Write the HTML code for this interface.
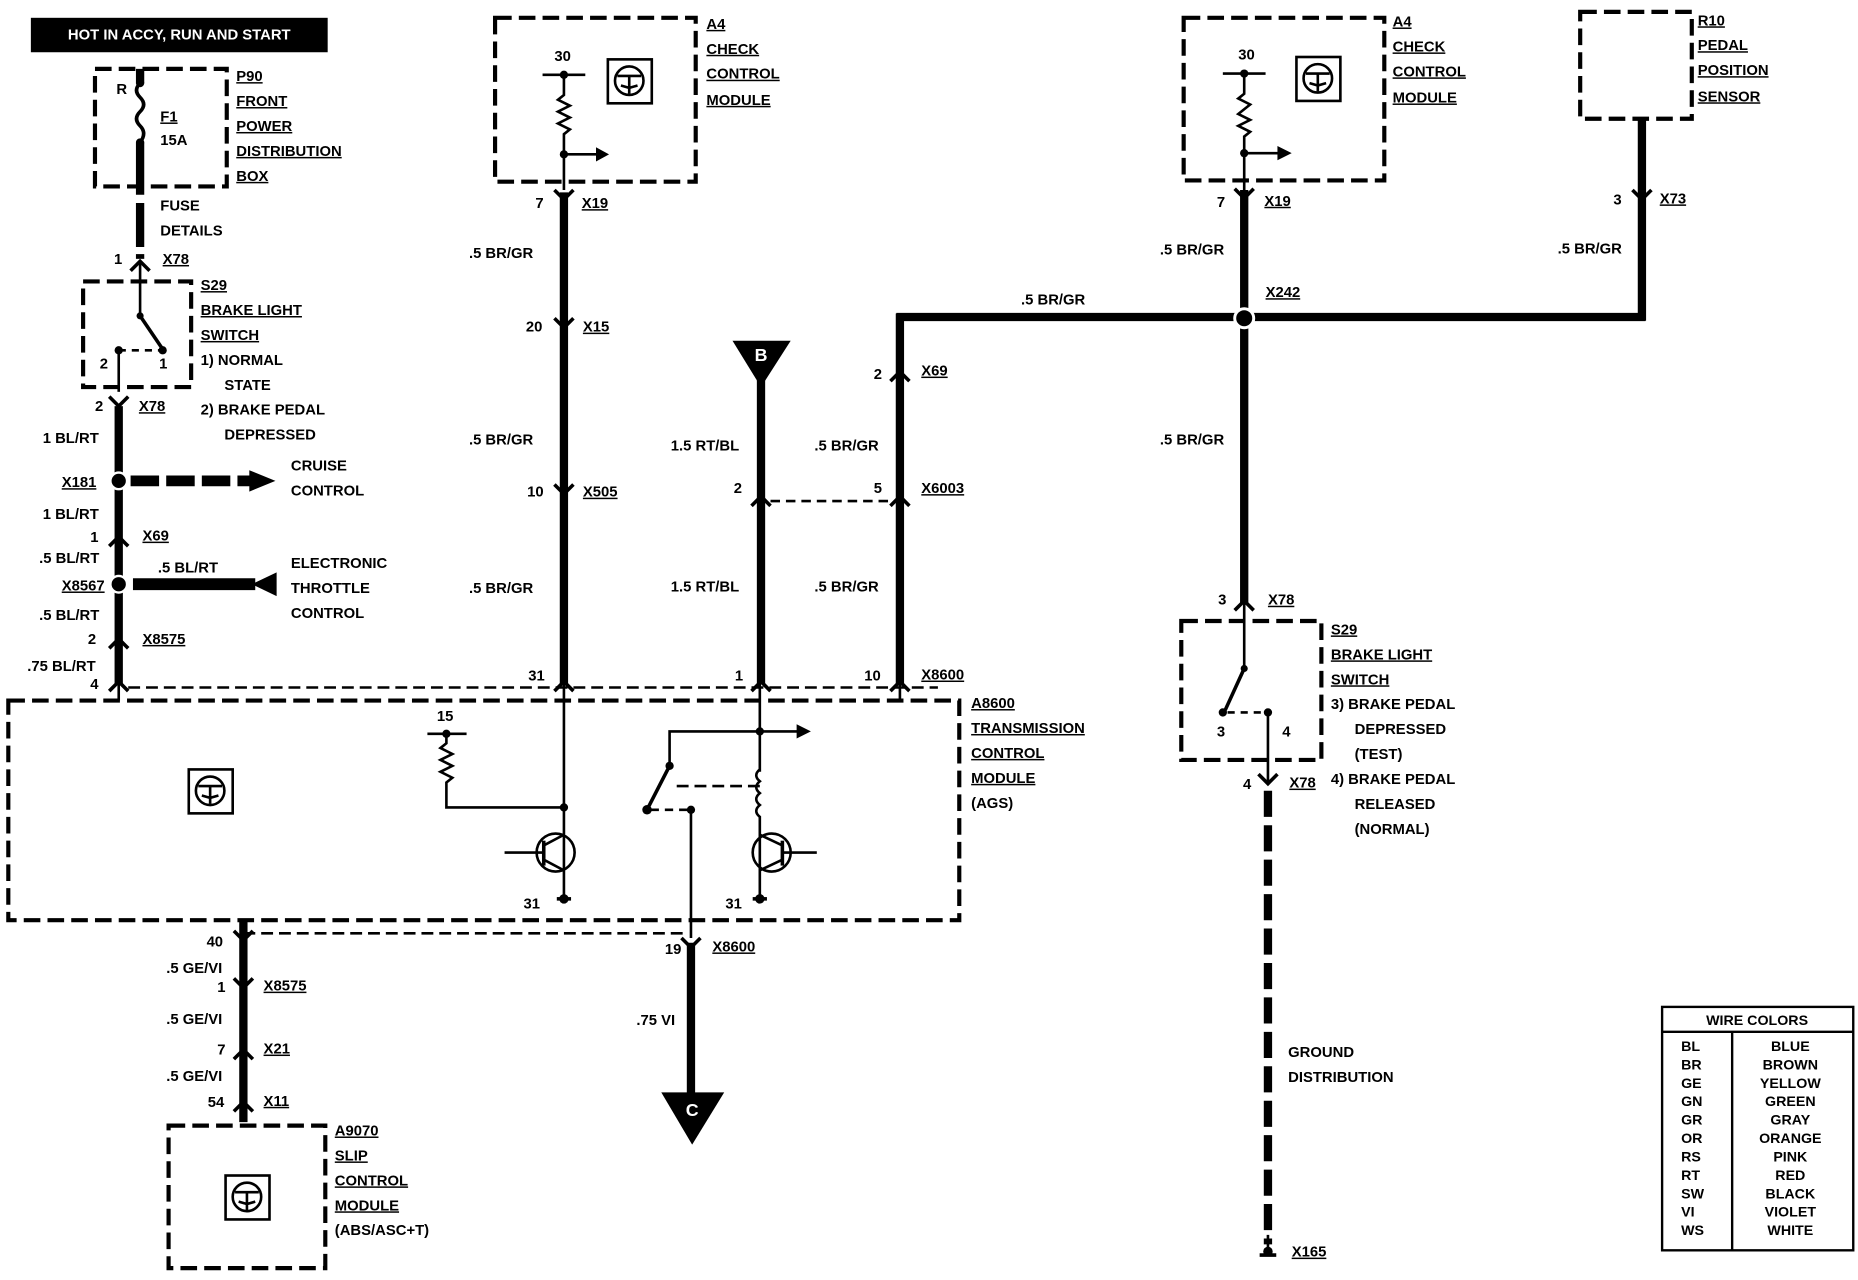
<!DOCTYPE html>
<html><head><meta charset="utf-8"><style>
html,body{margin:0;padding:0;background:#fff;}
svg{display:block;}
text{font-family:"Liberation Sans",sans-serif;font-weight:bold;font-size:12.5px;fill:#000;dominant-baseline:middle;}
.u{text-decoration:underline;}
.db{fill:none;stroke:#000;stroke-width:3.5;stroke-dasharray:14 6;}
.w{stroke:#000;stroke-width:7;fill:none;}
.t{stroke:#000;stroke-width:2.2;fill:none;}
.c{stroke:#000;stroke-width:3;fill:none;}
</style></head><body>
<svg width="1858" height="1280" viewBox="0 0 1565 1078" preserveAspectRatio="none" xmlns="http://www.w3.org/2000/svg">
<rect width="1565" height="1078" fill="#fff"/>
<!-- header -->
<rect x="26" y="15" width="250" height="29" fill="#000"/>
<text x="151" y="30" text-anchor="middle" style="fill:#fff;font-size:12.5px">HOT IN ACCY, RUN AND START</text>

<!-- P90 -->
<rect x="80" y="58" width="111" height="99" class="db"/>
<text x="98" y="76">R</text>
<line x1="118" y1="58" x2="118" y2="70" class="w"/>
<circle cx="118" cy="70" r="3.5"/>
<path d="M118 70 q-6 6 0 12 q6 6 0 12 q-6 6 0 12 q6 6 0 14" class="c"/>
<circle cx="118" cy="120" r="3.5"/>
<text x="135" y="99" class="u">F1</text>
<text x="135" y="119">15A</text>
<line x1="118" y1="120" x2="118" y2="164" class="w"/>
<line x1="118" y1="171" x2="118" y2="208" class="w"/>
<line x1="118" y1="214" x2="118" y2="218" class="w"/>
<text x="199" y="65" class="u">P90</text>
<text x="199" y="86" class="u">FRONT</text>
<text x="199" y="107" class="u">POWER</text>
<text x="199" y="128" class="u">DISTRIBUTION</text>
<text x="199" y="149" class="u">BOX</text>
<text x="135" y="174">FUSE</text>
<text x="135" y="195">DETAILS</text>
<path d="M110 228 L118 220 L126 228" class="c"/>
<line x1="118" y1="220" x2="118" y2="237" class="t"/>
<text x="96" y="219">1</text>
<text x="137" y="219" class="u">X78</text>

<!-- S29 left -->
<rect x="70" y="237" width="91" height="89" class="db"/>
<line x1="118" y1="237" x2="118" y2="265" class="t"/>
<circle cx="118" cy="266" r="3"/>
<line x1="118" y1="266" x2="137" y2="294" class="c"/>
<circle cx="137" cy="295" r="3.5"/>
<line x1="100" y1="295" x2="135" y2="295" class="t" stroke-dasharray="6 5"/>
<circle cx="100" cy="295" r="3.5"/>
<line x1="100" y1="295" x2="100" y2="330" class="t"/>
<text x="84" y="307">2</text>
<text x="134" y="307">1</text>
<text x="169" y="241" class="u">S29</text>
<text x="169" y="262" class="u">BRAKE LIGHT</text>
<text x="169" y="283" class="u">SWITCH</text>
<text x="169" y="304">1)  NORMAL</text>
<text x="189" y="325">STATE</text>
<text x="169" y="346">2)  BRAKE PEDAL</text>
<text x="189" y="367">DEPRESSED</text>

<!-- left vertical wire -->
<path d="M92 334 L100 342 L108 334" class="c"/>
<line x1="100" y1="342" x2="100" y2="576" class="w"/>
<text x="80" y="343">2</text>
<text x="117" y="343" class="u">X78</text>
<text x="36" y="370">1 BL/RT</text>
<circle cx="100" cy="405" r="7" fill="#000" stroke="#fff" stroke-width="2"/>
<text x="52" y="407" class="u">X181</text>
<line x1="110" y1="405" x2="212" y2="405" stroke="#000" stroke-width="9" stroke-dasharray="24 6"/>
<polygon points="210,396 232,405 210,414"/>
<text x="245" y="393">CRUISE</text>
<text x="245" y="414">CONTROL</text>
<text x="36" y="434">1 BL/RT</text>
<path d="M92 460 L100 452 L108 460" class="c"/>
<text x="76" y="453">1</text>
<text x="120" y="452" class="u">X69</text>
<text x="33" y="471">.5 BL/RT</text>
<text x="133" y="479">.5 BL/RT</text>
<circle cx="100" cy="492" r="7" fill="#000" stroke="#fff" stroke-width="2"/>
<text x="52" y="494" class="u">X8567</text>
<line x1="112" y1="492" x2="215" y2="492" stroke="#000" stroke-width="10"/>
<polygon points="212,492 233,482 233,502"/>
<text x="245" y="475">ELECTRONIC</text>
<text x="245" y="496">THROTTLE</text>
<text x="245" y="517">CONTROL</text>
<text x="33" y="519">.5 BL/RT</text>
<path d="M92 546 L100 538 L108 546" class="c"/>
<text x="74" y="539">2</text>
<text x="120" y="539" class="u">X8575</text>
<text x="23" y="562">.75 BL/RT</text>
<path d="M92 582 L100 574 L108 582" class="c"/>
<text x="76" y="577">4</text>
<line x1="108" y1="579" x2="790" y2="579" class="t" stroke-dasharray="10 5"/>

<!-- A8600 module -->
<rect x="7" y="590" width="801" height="185" class="db"/>
<line x1="100" y1="574" x2="100" y2="590" class="t"/>
<rect x="159" y="648" width="37" height="37" class="t"/>
<circle cx="177" cy="666" r="12" class="t"/>
<path d="M167 662 L187 662 M177 662 L177 677 M170 670 L177 672 L184 670" class="t"/>
<text x="818" y="593" class="u">A8600</text>
<text x="818" y="614" class="u">TRANSMISSION</text>
<text x="818" y="635" class="u">CONTROL</text>
<text x="818" y="656" class="u">MODULE</text>
<text x="818" y="677">(AGS)</text>

<!-- resistor 15 -->
<text x="368" y="604">15</text>
<line x1="360" y1="618" x2="393" y2="618" class="t"/>
<circle cx="376" cy="618" r="3.5"/>
<path d="M376 618 L376 626 l-5 4 l10 5 l-10 5 l10 5 l-10 5 l10 5 l-5 4 L376 680 L475 680" class="t"/>
<circle cx="475" cy="680" r="3.5"/>

<!-- A4 left -->
<rect x="417" y="15" width="169" height="138" class="db"/>
<text x="467" y="48">30</text>
<line x1="457" y1="63" x2="493" y2="63" class="t"/>
<circle cx="475" cy="63" r="3.5"/>
<path d="M475 63 L475 80 l-5 4 l10 5 l-10 5 l10 5 l-10 5 l10 5 l-5 4 L475 160" class="t"/>
<circle cx="475" cy="130" r="3.5"/>
<line x1="475" y1="130" x2="503" y2="130" class="t"/>
<polygon points="502,124 513,130 502,136"/>
<rect x="512" y="50" width="37" height="37" class="t"/>
<circle cx="530" cy="68" r="12" class="t"/>
<path d="M520 64 L540 64 M530 64 L530 79 M523 72 L530 74 L537 72" class="t"/>
<text x="595" y="21" class="u">A4</text>
<text x="595" y="42" class="u">CHECK</text>
<text x="595" y="63" class="u">CONTROL</text>
<text x="595" y="85" class="u">MODULE</text>
<line x1="475" y1="162" x2="475" y2="576" class="w"/>
<path d="M467 160 L475 168 L483 160" class="c"/>
<text x="451" y="172">7</text><text x="490" y="172" class="u">X19</text>
<text x="395" y="214">.5 BR/GR</text>
<path d="M467 268 L475 276 L483 268" class="c"/>
<text x="443" y="276">20</text><text x="491" y="276" class="u">X15</text>
<text x="395" y="371">.5 BR/GR</text>
<path d="M467 408 L475 416 L483 408" class="c"/>
<text x="444" y="415">10</text><text x="491" y="415" class="u">X505</text>
<text x="395" y="496">.5 BR/GR</text>
<path d="M467 582 L475 574 L483 582" class="c"/>
<text x="445" y="570">31</text>
<line x1="475" y1="574" x2="475" y2="756" class="t"/>
<!-- left transistor -->
<circle cx="468" cy="718" r="16" class="t"/>
<line x1="425" y1="718" x2="458" y2="718" class="t"/>
<line x1="458" y1="708" x2="458" y2="729" class="c"/>
<path d="M458 712 L475 703 M458 724 L475 733" class="t"/>
<circle cx="475" cy="757" r="4"/>
<line x1="469" y1="757" x2="481" y2="757" class="c"/>
<text x="441" y="762">31</text>

<!-- B column -->
<polygon points="617,287 666,287 641,326"/>
<text x="641" y="300" text-anchor="middle" style="fill:#fff;font-size:15px">B</text>
<line x1="641" y1="320" x2="641" y2="576" class="w"/>
<text x="565" y="376">1.5 RT/BL</text>
<path d="M633 426 L641 418 L649 426" class="c"/>
<text x="618" y="412">2</text>
<line x1="649" y1="422" x2="750" y2="422" class="t" stroke-dasharray="8 5"/>
<text x="565" y="495">1.5 RT/BL</text>
<path d="M633 582 L641 574 L649 582" class="c"/>
<text x="619" y="570">1</text>
<line x1="640" y1="574" x2="640" y2="650" class="t"/>
<circle cx="640" cy="616" r="3.5"/>
<path d="M564 645 L564 616 L672 616" class="t"/>
<polygon points="671,610 683,616 671,622"/>
<circle cx="564" cy="645" r="3.5"/>
<line x1="564" y1="645" x2="546" y2="680" class="c"/>
<circle cx="545" cy="682" r="4"/>
<line x1="548" y1="682" x2="580" y2="682" class="t" stroke-dasharray="7 5"/>
<circle cx="582" cy="682" r="3.5"/>
<line x1="570" y1="662" x2="640" y2="662" class="t" stroke-dasharray="10 5"/>
<path d="M640 648 q-6 5 0 10 q-6 5 0 10 q-6 5 0 10 q-6 5 0 10 L640 756" class="t"/>
<circle cx="650" cy="718" r="16" class="t"/>
<line x1="660" y1="718" x2="688" y2="718" class="t"/>
<line x1="659" y1="708" x2="659" y2="729" class="c"/>
<path d="M659 712 L640 703 M659 724 L640 733" class="t"/>
<circle cx="640" cy="757" r="4"/>
<line x1="634" y1="757" x2="646" y2="757" class="c"/>
<text x="611" y="762">31</text>
<line x1="582" y1="682" x2="582" y2="790" class="t"/>

<!-- X69 column -->
<line x1="755" y1="267" x2="1386" y2="267" class="w"/>
<line x1="758" y1="264" x2="758" y2="576" class="w"/>
<text x="860" y="253">.5 BR/GR</text>
<path d="M750 321 L758 313 L766 321" class="c"/>
<text x="736" y="316">2</text><text x="776" y="313" class="u">X69</text>
<text x="686" y="376">.5 BR/GR</text>
<path d="M750 426 L758 418 L766 426" class="c"/>
<text x="736" y="412">5</text><text x="776" y="412" class="u">X6003</text>
<text x="686" y="495">.5 BR/GR</text>
<path d="M750 582 L758 574 L766 582" class="c"/>
<text x="728" y="570">10</text><text x="776" y="569" class="u">X8600</text>
<line x1="758" y1="574" x2="758" y2="590" class="t"/>

<!-- bottom left -->
<line x1="205" y1="786" x2="578" y2="786" class="t" stroke-dasharray="10 5"/>
<line x1="205" y1="775" x2="205" y2="945" class="w"/>
<path d="M197 784 L205 792 L213 784" class="c"/>
<text x="174" y="794">40</text>
<text x="140" y="816">.5 GE/VI</text>
<path d="M197 824 L205 832 L213 824" class="c"/>
<text x="183" y="832">1</text><text x="222" y="831" class="u">X8575</text>
<text x="140" y="859">.5 GE/VI</text>
<path d="M197 892 L205 884 L213 892" class="c"/>
<text x="183" y="885">7</text><text x="222" y="884" class="u">X21</text>
<text x="140" y="907">.5 GE/VI</text>
<path d="M197 936 L205 928 L213 936" class="c"/>
<text x="175" y="929">54</text><text x="222" y="928" class="u">X11</text>
<rect x="142" y="948" width="132" height="120" class="db"/>
<rect x="190" y="990" width="37" height="37" class="t"/>
<circle cx="208" cy="1008" r="12" class="t"/>
<path d="M198 1004 L218 1004 M208 1004 L208 1019 M201 1012 L208 1014 L215 1012" class="t"/>
<text x="282" y="953" class="u">A9070</text>
<text x="282" y="974" class="u">SLIP</text>
<text x="282" y="995" class="u">CONTROL</text>
<text x="282" y="1016" class="u">MODULE</text>
<text x="282" y="1037">(ABS/ASC+T)</text>

<!-- C -->
<path d="M574 790 L582 798 L590 790" class="c"/>
<line x1="582" y1="794" x2="582" y2="925" class="w"/>
<text x="560" y="800">19</text><text x="600" y="798" class="u">X8600</text>
<text x="536" y="860">.75 VI</text>
<polygon points="557,920 610,920 583,964"/>
<text x="583" y="936" text-anchor="middle" style="fill:#fff;font-size:15px">C</text>

<!-- A4 right -->
<rect x="997" y="15" width="169" height="137" class="db"/>
<text x="1043" y="47">30</text>
<line x1="1030" y1="62" x2="1066" y2="62" class="t"/>
<circle cx="1048" cy="62" r="3.5"/>
<path d="M1048 62 L1048 79 l-5 4 l10 5 l-5 4 l-5 4 l10 5 l-10 5 l10 5 l-5 4 L1048 160" class="t"/>
<circle cx="1048" cy="129" r="3.5"/>
<line x1="1048" y1="129" x2="1077" y2="129" class="t"/>
<polygon points="1076,123 1088,129 1076,135"/>
<rect x="1092" y="48" width="37" height="37" class="t"/>
<circle cx="1110" cy="66" r="12" class="t"/>
<path d="M1100 62 L1120 62 M1110 62 L1110 77 M1103 70 L1110 72 L1117 70" class="t"/>
<text x="1173" y="19" class="u">A4</text>
<text x="1173" y="40" class="u">CHECK</text>
<text x="1173" y="61" class="u">CONTROL</text>
<text x="1173" y="83" class="u">MODULE</text>
<line x1="1048" y1="160" x2="1048" y2="508" class="w"/>
<path d="M1040 159 L1048 167 L1056 159" class="c"/>
<text x="1025" y="171">7</text><text x="1065" y="170" class="u">X19</text>
<text x="977" y="211">.5 BR/GR</text>
<circle cx="1048" cy="268" r="8" fill="#000" stroke="#fff" stroke-width="2.5"/>
<text x="1066" y="247" class="u">X242</text>
<text x="977" y="371">.5 BR/GR</text>
<path d="M1040 514 L1048 506 L1056 514" class="c"/>
<text x="1026" y="506">3</text><text x="1068" y="506" class="u">X78</text>

<!-- S29 right -->
<rect x="995" y="523" width="118" height="117" class="db"/>
<line x1="1048" y1="508" x2="1048" y2="562" class="t"/>
<circle cx="1048" cy="563" r="3"/>
<line x1="1048" y1="563" x2="1032" y2="598" class="c"/>
<circle cx="1030" cy="600" r="3.5"/>
<line x1="1034" y1="600" x2="1066" y2="600" class="t" stroke-dasharray="6 5"/>
<circle cx="1068" cy="600" r="3.5"/>
<line x1="1068" y1="600" x2="1068" y2="660" class="t"/>
<text x="1025" y="617">3</text><text x="1080" y="617">4</text>
<text x="1121" y="531" class="u">S29</text>
<text x="1121" y="552" class="u">BRAKE LIGHT</text>
<text x="1121" y="573" class="u">SWITCH</text>
<text x="1121" y="594">3)  BRAKE PEDAL</text>
<text x="1141" y="615">DEPRESSED</text>
<text x="1141" y="636">(TEST)</text>
<text x="1121" y="657">4)  BRAKE PEDAL</text>
<text x="1141" y="678">RELEASED</text>
<text x="1141" y="699">(NORMAL)</text>
<path d="M1060 652 L1068 660 L1076 652" class="c"/>
<text x="1047" y="661">4</text><text x="1086" y="660" class="u">X78</text>
<line x1="1068" y1="666" x2="1068" y2="1048" stroke="#000" stroke-width="7" stroke-dasharray="22 7"/>
<text x="1085" y="887">GROUND</text>
<text x="1085" y="908">DISTRIBUTION</text>
<line x1="1068" y1="1040" x2="1068" y2="1054" class="t"/>
<circle cx="1068" cy="1054" r="4"/>
<line x1="1061" y1="1057" x2="1075" y2="1057" class="c"/>
<text x="1088" y="1055" class="u">X165</text>

<!-- R10 -->
<rect x="1331" y="10" width="94" height="90" class="db"/>
<line x1="1383" y1="100" x2="1383" y2="270" class="w"/>
<path d="M1375 160 L1383 168 L1391 160" class="c"/>
<text x="1359" y="169">3</text><text x="1398" y="168" class="u">X73</text>
<text x="1312" y="210">.5 BR/GR</text>
<text x="1430" y="18" class="u">R10</text>
<text x="1430" y="39" class="u">PEDAL</text>
<text x="1430" y="60" class="u">POSITION</text>
<text x="1430" y="82" class="u">SENSOR</text>

<!-- table -->
<rect x="1400" y="848" width="161" height="205" fill="none" stroke="#000" stroke-width="2"/>
<line x1="1400" y1="869" x2="1561" y2="869" stroke="#000" stroke-width="2"/>
<line x1="1459" y1="869" x2="1459" y2="1053" stroke="#000" stroke-width="2"/>
<g style="font-size:12px">
<text x="1480" y="860" text-anchor="middle" style="font-size:12px">WIRE COLORS</text>
<text x="1416" y="882" style="font-size:12px">BL</text><text x="1508" y="882" text-anchor="middle" style="font-size:12px">BLUE</text>
<text x="1416" y="897.5" style="font-size:12px">BR</text><text x="1508" y="897.5" text-anchor="middle" style="font-size:12px">BROWN</text>
<text x="1416" y="913" style="font-size:12px">GE</text><text x="1508" y="913" text-anchor="middle" style="font-size:12px">YELLOW</text>
<text x="1416" y="928.5" style="font-size:12px">GN</text><text x="1508" y="928.5" text-anchor="middle" style="font-size:12px">GREEN</text>
<text x="1416" y="944" style="font-size:12px">GR</text><text x="1508" y="944" text-anchor="middle" style="font-size:12px">GRAY</text>
<text x="1416" y="959.5" style="font-size:12px">OR</text><text x="1508" y="959.5" text-anchor="middle" style="font-size:12px">ORANGE</text>
<text x="1416" y="975" style="font-size:12px">RS</text><text x="1508" y="975" text-anchor="middle" style="font-size:12px">PINK</text>
<text x="1416" y="990.5" style="font-size:12px">RT</text><text x="1508" y="990.5" text-anchor="middle" style="font-size:12px">RED</text>
<text x="1416" y="1006" style="font-size:12px">SW</text><text x="1508" y="1006" text-anchor="middle" style="font-size:12px">BLACK</text>
<text x="1416" y="1021.5" style="font-size:12px">VI</text><text x="1508" y="1021.5" text-anchor="middle" style="font-size:12px">VIOLET</text>
<text x="1416" y="1037" style="font-size:12px">WS</text><text x="1508" y="1037" text-anchor="middle" style="font-size:12px">WHITE</text>
</g>
</svg>
</body></html>
